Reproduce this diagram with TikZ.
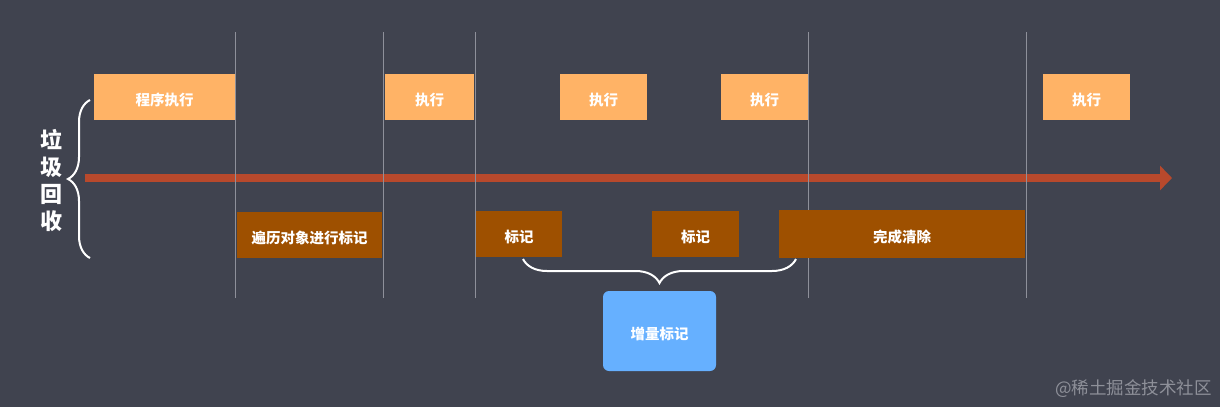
\documentclass[tikz,border=0pt]{standalone}
\usepackage{fontspec}
\setmainfont{Noto Sans CJK SC}
\newfontfamily\cjk{Noto Sans CJK SC}
\usetikzlibrary{arrows.meta,decorations.pathreplacing}
\definecolor{bg}{HTML}{40434F}
\definecolor{vline}{HTML}{8E909A}
\definecolor{runc}{HTML}{FFB366}
\definecolor{markc}{HTML}{9E5000}
\definecolor{axisc}{HTML}{B8492C}
\definecolor{incc}{HTML}{66B0FF}
\definecolor{wm}{HTML}{8E9099}
\tikzset{
  lbl/.style={text=white, inner sep=0pt, text height=17pt, text depth=0pt, font=\cjk\bfseries\fontsize{14.5}{16}\selectfont},
  runbox/.style={lbl, fill=runc, minimum height=46pt},
  markbox/.style={lbl, fill=markc, minimum height=46pt},
  incbox/.style={lbl, fill=incc, rounded corners=6pt},
  sepline/.style={draw=vline, line width=1pt},
  bracestyle/.style={draw=white, line width=2pt, decorate, decoration={brace, amplitude=#1}},
}
\begin{document}
\begin{tikzpicture}[x=1pt,y=-1pt]
\fill[bg] (0,0) rectangle (1220,407);
\useasboundingbox (0,0) rectangle (1220,407);
% axis
\coordinate (axs) at (85,178);
\coordinate (axe) at (1172,178);
\draw[draw=axisc, line width=8pt, -{Triangle[length=12pt,width=24pt]}] (axs) -- (axe);
% separator lines
\foreach \i/\x in {a/235,b/383,c/475,d/808,e/1026}{
  \coordinate (t\i) at (\x,32);
  \coordinate (b\i) at (\x,298);
  \draw[sepline] (t\i) -- (b\i);
}
% run boxes
\node[runbox, minimum width=141pt] (p1) at (164.5,97) {程序执行};
\node[runbox, minimum width=89pt] (e1) at (429.5,97) {执行};
\node[runbox, minimum width=87pt] (e2) at (603.5,97) {执行};
\node[runbox, minimum width=87pt] (e3) at (764.5,97) {执行};
\node[runbox, minimum width=87pt] (e4) at (1086.5,97) {执行};
% mark boxes
\node[markbox, minimum width=145pt] (m1) at (309.5,234.5) {遍历对象进行标记};
\node[markbox, minimum width=86pt] (m2) at (519,234) {标记};
\node[markbox, minimum width=87pt] (m3) at (695.5,234) {标记};
\node[markbox, minimum width=246pt, minimum height=48pt] (c1) at (902,234) {完成清除};
% incremental
\node[incbox, minimum width=113pt, minimum height=80pt] (inc) at (659.5,331) {增量标记};
% braces
\coordinate (lb1) at (90,258);
\coordinate (lb2) at (90,100);
\draw[bracestyle=22pt] (lb1) -- (lb2);
\coordinate (bb1) at (796,259);
\coordinate (bb2) at (523,259);
\draw[bracestyle=24pt] (bb1) -- (bb2);
% left title
\node[text=white, font=\cjk\bfseries\fontsize{22}{27}\selectfont, align=center, inner sep=0pt] (gc) at (51,181) {垃\\圾\\回\\收};
% watermark
\node[text=wm, font=\cjk\fontsize{17.5}{19}\selectfont, anchor=east, inner sep=0pt] (wmk) at (1212,389) {@稀土掘金技术社区};
\end{tikzpicture}
\end{document}
